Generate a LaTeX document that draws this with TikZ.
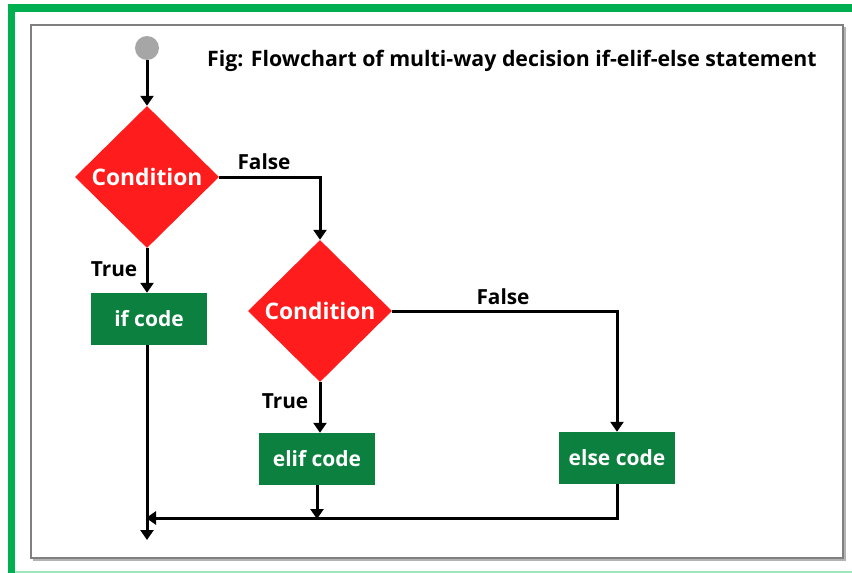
\documentclass[tikz,border=0pt]{standalone}
\usepackage{fontspec}
\setmainfont{Open Sans}
\usetikzlibrary{shapes.geometric,arrows.meta}
\definecolor{framegreen}{RGB}{0,176,80}
\definecolor{palegreen}{RGB}{160,230,185}
\definecolor{condred}{RGB}{255,28,28}
\definecolor{codegreen}{RGB}{12,128,62}
\definecolor{startgray}{RGB}{166,166,166}
\definecolor{panelgray}{RGB}{128,128,128}
\tikzset{
  decision/.style={diamond, aspect=1, fill=condred, inner sep=0pt,
    minimum width=144pt, minimum height=142pt, text=white,
    font=\fontsize{22.8}{26}\selectfont\bfseries},
  codebox/.style={rectangle, fill=codegreen, inner sep=0pt,
    minimum width=116pt, minimum height=52pt, text=white,
    font=\fontsize{21}{24}\selectfont\bfseries},
  startdot/.style={circle, fill=startgray, inner sep=0pt, minimum size=24pt},
  flow/.style={line width=3pt, -{Triangle[length=10pt,width=13pt]}},
  branchlabel/.style={font=\fontsize{20.8}{24}\selectfont\bfseries, inner sep=0pt},
  titletext/.style={font=\fontsize{21.3}{25}\selectfont\bfseries, inner sep=0pt, anchor=west}
}
\begin{document}
\begin{tikzpicture}[x=1pt, y=-1pt]
  \useasboundingbox (0,0) rectangle (852,573);
  \fill[white] (0,0) rectangle (852,573);
  % outer frame
  \draw[palegreen, line width=1.5pt] (11,572) -- (852,572);
  \draw[framegreen, line width=7.5pt] (11.5,580) -- (11.5,8) -- (860,8);
  % inner panel with a light shadow
  \draw[panelgray!60, line width=2pt] (33,560) -- (845,560) -- (845,27);
  \draw[panelgray, line width=1.6pt] (31,25) rectangle (843,558);

  % title
  \node[titletext] (title) at (207,61) {Fig: Flowchart of multi-way decision if-elif-else statement};

  % nodes
  \node[startdot] (start) at (147,48) {};
  \node[decision] (c1) at (147,177) {Condition};
  \node[decision] (c2) at (320,311) {Condition};
  \node[codebox] (ifc) at (149,319) {if code};
  \node[codebox] (elifc) at (317,459) {elif code};
  \node[codebox] (elsec) at (617,458) {else code};

  \coordinate (exit) at (147,540);
  \coordinate (join) at (317,519);
  \coordinate (merge) at (146,518);

  % connectors
  \draw[flow] (start) -- (c1.north);
  \draw[flow] (c1.east) -| (c2.north);
  \draw[flow] (c1.south) -- (ifc.north -| c1.south);
  \draw[flow] (c2.south) -- (elifc.north -| c2.south);
  \draw[flow] (c2.east) -| (elsec.north);
  \draw[flow] (ifc.south -| c1.south) -- (exit);
  \draw[flow] (elifc.south) -- (join);
  \draw[flow] (elsec.south) |- (merge);

  % branch labels
  \node[branchlabel] (f1) at (264,162) {False};
  \node[branchlabel] (t1) at (114,269) {True};
  \node[branchlabel] (f2) at (503,297) {False};
  \node[branchlabel] (t2) at (285,401) {True};
\end{tikzpicture}
\end{document}
